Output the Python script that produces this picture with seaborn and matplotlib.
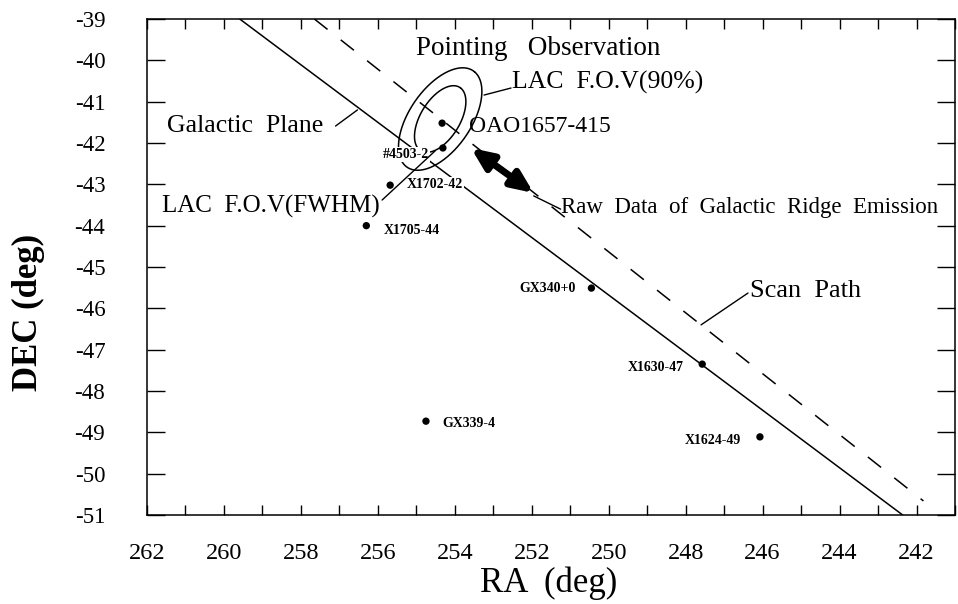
import numpy as np
import pandas as pd
import seaborn as sns
import matplotlib.pyplot as plt
from matplotlib.ticker import MultipleLocator

# X-ray sources (RA, DEC in deg)
src_name = ['OAO1657-415', '#4503-2', 'X1702-42', 'X1705-44',
            'GX340+0', 'X1630-47', 'X1624-49', 'GX339-4']
src_ra = [254.33, 254.31, 255.68, 256.30, 250.45, 247.57, 246.07, 254.75]
src_dec = [-41.52, -42.12, -43.02, -44.00, -45.51, -47.35, -49.11, -48.73]

# galactic plane and scan path (end points)
gal_ra = [259.59, 242.36]
gal_dec = [-39.0, -51.0]
scan_ra = [257.65, 241.82]
scan_dec = [-39.0, -50.66]

# LAC field of view around the pointing position
fov_center = (254.38, -41.42)
fov_major = [0.92, 1.45]   # FWHM, 90%
fov_minor = [0.50, 0.78]
fov_angle = [55, 52]

# raw data of galactic ridge emission (double arrow)
ridge_ra = [253.58, 251.95]
ridge_dec = [-42.12, -43.21]

sns.set_theme(style='white')
plt.rcParams['font.family'] = ['Liberation Serif', 'DejaVu Serif']
plt.rcParams['axes.unicode_minus'] = False

fig = plt.figure(figsize=(9.58, 6.04), dpi=100)
ax = fig.add_axes([147 / 958, 89 / 604, 808 / 958, 496 / 604])

# lines
sns.lineplot(x=gal_ra, y=gal_dec, ax=ax, color='black', lw=1.1, sort=False, zorder=2)
scan = sns.lineplot(x=scan_ra, y=scan_dec, ax=ax, color='black', lw=1.1, sort=False, zorder=2)
scan.lines[-1].set_dashes((11, 11))

# FOV ellipses
t = np.linspace(0, 2 * np.pi, 300)
for a, b, ang in zip(fov_major, fov_minor, fov_angle):
    th = np.radians(ang)
    dx = a * np.cos(t) * np.cos(th) - b * np.sin(t) * np.sin(th)
    dy = a * np.cos(t) * np.sin(th) + b * np.sin(t) * np.cos(th)
    ax.plot(fov_center[0] - dx, fov_center[1] + dy, color='black', lw=1.1, zorder=2)

# sources
df = pd.DataFrame({'ra': src_ra, 'dec': src_dec, 'name': src_name})
sns.scatterplot(data=df, x='ra', y='dec', ax=ax, color='black', s=28,
                edgecolor='none', zorder=5, legend=False)

# source labels: (name, ra, dec, ha, size, weight)
src_labels = [
    ('OAO1657-415', 253.63, -41.73, 'left', 17, 'normal'),
    ('#4503-2', 254.67, -42.36, 'right', 10, 'bold'),
    ('X1702-42', 255.24, -43.09, 'left', 10, 'bold'),
    ('X1705-44', 255.86, -44.20, 'left', 10, 'bold'),
    ('GX340+0', 250.86, -45.61, 'right', 10, 'bold'),
    ('X1630-47', 248.04, -47.52, 'right', 10, 'bold'),
    ('X1624-49', 246.56, -49.28, 'right', 10, 'bold'),
    ('GX339-4', 254.33, -48.87, 'left', 10, 'bold'),
]
for name, x, y, ha, size, weight in src_labels:
    bb = dict(facecolor='white', edgecolor='none', pad=0.5) if name in ('#4503-2', 'X1702-42') else None
    ax.text(x, y, name, ha=ha, va='baseline', fontsize=size, fontweight=weight,
            color='black', bbox=bb, zorder=3)

# annotations
notes = [
    ('Pointing   Observation', 255.01, -39.87, 19.5),
    ('LAC  F.O.V(90%)', 252.52, -40.69, 18.5),
    ('Galactic  Plane', 261.48, -41.73, 18.5),
    ('LAC  F.O.V(FWHM)', 261.61, -43.69, 18),
    ('Scan  Path', 246.33, -45.73, 19),
    ('Raw  Data  of  Galactic  Ridge  Emission', 251.25, -43.69, 16.5),
]
for txt, x, y, size in notes:
    ax.text(x, y, txt, ha='left', va='baseline', fontsize=size, color='black', zorder=3)

# leader lines
leaders = [
    (253.24, -40.84, 252.54, -40.67),
    (257.10, -41.59, 256.53, -41.20),
    (255.89, -43.38, 254.51, -42.19),
    (247.60, -46.40, 246.38, -45.63),
    (251.95, -43.28, 251.25, -43.60),
]
for x1, y1, x2, y2 in leaders:
    ax.plot([x1, x2], [y1, y2], color='black', lw=1.0, zorder=4)

ax.annotate('', xy=(ridge_ra[0], ridge_dec[0]), xytext=(ridge_ra[1], ridge_dec[1]),
            arrowprops=dict(arrowstyle='<|-|>,head_length=0.8,head_width=0.35',
                            lw=5, color='black', mutation_scale=16,
                            shrinkA=0, shrinkB=0), zorder=4)

# axes
ax.set_xlim(262, 241)
ax.set_ylim(-51, -39)
ax.xaxis.set_major_locator(MultipleLocator(2))
ax.xaxis.set_minor_locator(MultipleLocator(1))
ax.yaxis.set_major_locator(MultipleLocator(1))
ax.tick_params(axis='x', which='both', direction='in', length=7, width=1,
               top=True, bottom=True, pad=20, labelsize=17.5, colors='black')
ax.tick_params(axis='y', which='major', direction='in', length=13, width=1,
               left=True, right=True, pad=30, labelsize=16.5, colors='black')
for s in ax.spines.values():
    s.set_color('black')
    s.set_linewidth(1.1)

ax.set_xlabel('RA  (deg)', fontsize=25, color='black')
ax.xaxis.set_label_coords(0.4975, -0.103)
ax.set_ylabel('DEC (deg)', fontsize=25, fontweight='bold', color='black')
ax.yaxis.set_label_coords(-0.126, 0.409)

fig.savefig('out.png', dpi=100)
